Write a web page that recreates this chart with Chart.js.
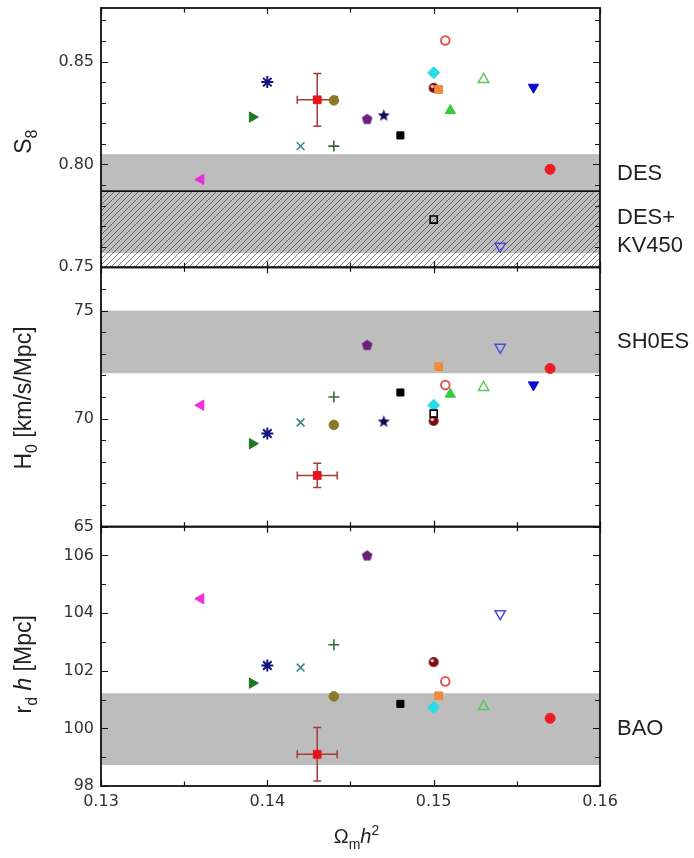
<!DOCTYPE html>
<html>
<head>
<meta charset="utf-8">
<script src="https://cdn.jsdelivr.net/npm/chart.js@4.4.1/dist/chart.umd.min.js"></script>
<style>
  html, body { margin: 0; padding: 0; background: #fff; }
  #wrap { width: 694px; height: 858px; }
</style>
</head>
<body>
<div id="wrap"><canvas id="chart" width="694" height="858"></canvas></div>
<script>
// Omega_m h^2 of each model (same order in every panel)
const omh2 = [0.1360, 0.1391, 0.1400, 0.1420, 0.1430, 0.1440, 0.1440, 0.1460, 0.1470, 0.1480,
              0.1500, 0.1500, 0.1503, 0.1507, 0.1510, 0.1530, 0.1560, 0.1570, 0.1500, 0.1540];
const s8Vals = [0.7927, 0.8230, 0.8400, 0.8089, 0.8314, 0.8311, 0.8089, 0.8222, 0.8241, 0.8141,
                0.8372, 0.8445, 0.8364, 0.8602, 0.8262, 0.8413, 0.8375, 0.7976, 0.7732, 0.7602];
const h0Vals = [70.62, 68.84, 69.31, 69.82, 67.37, 69.71, 71.00, 73.42, 69.89, 71.21,
                69.89, 70.62, 72.40, 71.55, 71.13, 71.44, 71.56, 72.32, 70.23, 73.30];
const rdhVals = [104.50, 101.57, 102.18, 102.11, 99.10, 101.11, 102.90, 106.01, null, 100.85,
                 102.30, 100.72, 101.13, 101.63, null, 100.76, null, 100.35, null, 103.98];

// error bars of the reference point (index 4)
const refIndex = 4;
const refErrX = 0.0012;
const refErrS8 = 0.0128;
const refErrH0 = 0.56;
const refErrRdh = 0.93;

// observational bands
const desBand = [0.757, 0.805];
const kvBand = [0.740, 0.787];
const shoesBand = [72.1, 75.0];
const baoBand = [98.73, 101.22];

// axis ranges
const xRange = [0.13, 0.16];
const s8Range = [0.75, 0.876];
const h0Range = [65, 77];
const rdhRange = [98, 107];

function shapeImg(size, draw) {
  const cv = document.createElement('canvas');
  cv.width = size; cv.height = size;
  draw(cv.getContext('2d'), size / 2);
  return cv;
}
const pentagon = shapeImg(13, (g, c) => {
  g.fillStyle = '#6b1f78';
  g.beginPath();
  for (let i = 0; i < 5; i++) {
    const a = -Math.PI / 2 + i * 2 * Math.PI / 5;
    g.lineTo(c + 5.6 * Math.cos(a), c + 0.6 + 5.6 * Math.sin(a));
  }
  g.closePath(); g.fill();
});
const star5 = shapeImg(15, (g, c) => {
  g.fillStyle = '#0b0b5e';
  g.beginPath();
  for (let i = 0; i < 10; i++) {
    const a = -Math.PI / 2 + i * Math.PI / 5;
    const r = i % 2 ? 2.7 : 6.5;
    g.lineTo(c + r * Math.cos(a), c + 0.8 + r * Math.sin(a));
  }
  g.closePath(); g.fill();
});
const sphere = shapeImg(12, (g, c) => {
  g.fillStyle = '#7a0c0c';
  g.beginPath(); g.arc(c, c, 5, 0, 2 * Math.PI); g.fill();
  g.fillStyle = '#f2d2d2';
  g.beginPath(); g.arc(c - 1.4, c - 1.4, 1.7, 0, 2 * Math.PI); g.fill();
});

const none = 'rgba(0,0,0,0)';
const markers = [
  { style: 'triangle', rot: 270, color: '#ee30dc', fill: '#ee30dc', r: 6, bw: 1 },
  { style: 'triangle', rot: 90, color: '#1f7a1f', fill: '#1f7a1f', r: 6, bw: 1 },
  { style: 'star', rot: 0, color: '#12127e', fill: none, r: 6, bw: 2 },
  { style: 'crossRot', rot: 0, color: '#3d8585', fill: none, r: 5.5, bw: 1.6 },
  { style: 'rect', rot: 0, color: '#e8141c', fill: '#e8141c', r: 5.5, bw: 1 },
  { style: 'circle', rot: 0, color: '#8c7a2a', fill: '#8c7a2a', r: 4.8, bw: 1 },
  { style: 'cross', rot: 0, color: '#2f6e2f', fill: none, r: 5.5, bw: 1.6 },
  { style: pentagon, rot: 0, color: '#6b1f78', fill: '#6b1f78', r: 6, bw: 0 },
  { style: star5, rot: 0, color: '#0b0b5e', fill: '#0b0b5e', r: 6, bw: 0 },
  { style: 'rect', rot: 0, color: '#000000', fill: '#000000', r: 5, bw: 1 },
  { style: sphere, rot: 0, color: '#7a0c0c', fill: '#7a0c0c', r: 5, bw: 0 },
  { style: 'rectRot', rot: 0, color: '#2adbe8', fill: '#2adbe8', r: 6, bw: 1 },
  { style: 'rect', rot: 0, color: '#f28a3a', fill: '#f28a3a', r: 5.5, bw: 1 },
  { style: 'circle', rot: 0, color: '#e05555', fill: '#ffffff', r: 4.3, bw: 2 },
  { style: 'triangle', rot: 0, color: '#33cc3a', fill: '#33cc3a', r: 6, bw: 1 },
  { style: 'triangle', rot: 0, color: '#5cc85c', fill: none, r: 6, bw: 1.5 },
  { style: 'triangle', rot: 180, color: '#0a0acc', fill: '#0a0acc', r: 6, bw: 1 },
  { style: 'circle', rot: 0, color: '#ee1c24', fill: '#ee1c24', r: 5, bw: 1 },
  { style: 'rect', rot: 0, color: '#000000', fill: none, r: 5, bw: 1.6 },
  { style: 'triangle', rot: 180, color: '#4d4dd6', fill: none, r: 6, bw: 1.5 }
];

const panels = [
  { id: 'yS8', vals: s8Vals, err: refErrS8, minor: 0.01, major: 0.05 },
  { id: 'yH0', vals: h0Vals, err: refErrH0, minor: 1, major: 5 },
  { id: 'yRd', vals: rdhVals, err: refErrRdh, minor: 1, major: 2 }
];

const tickFont = { family: 'DejaVu Sans', size: 16 };
const titleFamily = 'Liberation Sans';

function hatchPattern(g) {
  const p = document.createElement('canvas');
  p.width = 6; p.height = 6;
  const h = p.getContext('2d');
  h.strokeStyle = 'rgba(30,30,30,0.55)';
  h.lineWidth = 1;
  h.beginPath();
  h.moveTo(0, 6); h.lineTo(6, 0);
  h.moveTo(-1, 1); h.lineTo(1, -1);
  h.moveTo(5, 7); h.lineTo(7, 5);
  h.stroke();
  return g.createPattern(p, 'repeat');
}

function drawRich(g, parts, x, y, size, angle) {
  g.save();
  g.translate(x, y);
  g.rotate(angle);
  g.fillStyle = '#222';
  g.textAlign = 'left';
  g.textBaseline = 'alphabetic';
  const fonts = parts.map(p => (p.it ? 'italic ' : '') + Math.round((p.sub || p.sup) ? size * 0.68 : size) + 'px "' + titleFamily + '"');
  const widths = parts.map((p, i) => { g.font = fonts[i]; return g.measureText(p.t).width; });
  let cx = -widths.reduce((a, b) => a + b, 0) / 2;
  parts.forEach((p, i) => {
    g.font = fonts[i];
    const dy = p.sub ? size * 0.28 : (p.sup ? -size * 0.4 : 0);
    g.fillText(p.t, cx, dy);
    cx += widths[i];
  });
  g.restore();
}

const decorPlugin = {
  id: 'decor',
  beforeDatasetsDraw(chart) {
    const g = chart.ctx;
    const { left, right } = chart.chartArea;
    const xs = chart.scales.x;
    const band = (sc, lo, hi, fill) => {
      const y1 = sc.getPixelForValue(hi), y2 = sc.getPixelForValue(lo);
      g.fillStyle = fill;
      g.fillRect(left, y1, right - left, y2 - y1);
    };
    const yS8 = chart.scales.yS8, yH0 = chart.scales.yH0, yRd = chart.scales.yRd;
    g.save();
    g.beginPath(); g.rect(left, yS8.top, right - left, yS8.bottom - yS8.top); g.clip();
    band(yS8, desBand[0], desBand[1], '#bdbdbd');
    band(yS8, kvBand[0], kvBand[1], hatchPattern(g));
    g.strokeStyle = '#111'; g.lineWidth = 1.8;
    const yl = yS8.getPixelForValue(kvBand[1]);
    g.beginPath(); g.moveTo(left, yl); g.lineTo(right, yl); g.stroke();
    g.restore();
    g.save();
    g.beginPath(); g.rect(left, yH0.top, right - left, yH0.bottom - yH0.top); g.clip();
    band(yH0, shoesBand[0], shoesBand[1], '#bdbdbd');
    g.restore();
    g.save();
    g.beginPath(); g.rect(left, yRd.top, right - left, yRd.bottom - yRd.top); g.clip();
    band(yRd, baoBand[0], baoBand[1], '#bdbdbd');
    g.restore();

    // error bars of the reference point
    g.save();
    g.strokeStyle = '#a83a3a';
    g.lineWidth = 1.5;
    panels.forEach(p => {
      const sc = chart.scales[p.id];
      const xv = omh2[refIndex], yv = p.vals[refIndex];
      const px = xs.getPixelForValue(xv), py = sc.getPixelForValue(yv);
      const x1 = xs.getPixelForValue(xv - refErrX), x2 = xs.getPixelForValue(xv + refErrX);
      const y1 = sc.getPixelForValue(yv + p.err), y2 = sc.getPixelForValue(yv - p.err);
      const c = 4;
      g.beginPath();
      g.moveTo(x1, py); g.lineTo(x2, py);
      g.moveTo(x1, py - c); g.lineTo(x1, py + c);
      g.moveTo(x2, py - c); g.lineTo(x2, py + c);
      g.moveTo(px, y1); g.lineTo(px, y2);
      g.moveTo(px - c, y1); g.lineTo(px + c, y1);
      g.moveTo(px - c, y2); g.lineTo(px + c, y2);
      g.stroke();
    });
    g.restore();
  },
  afterDatasetsDraw(chart) {
    const g = chart.ctx;
    const { left, right } = chart.chartArea;
    const xs = chart.scales.x;
    g.save();
    g.strokeStyle = '#111';
    g.lineWidth = 1.2;
    panels.forEach(p => {
      const sc = chart.scales[p.id];
      const top = sc.top, bottom = sc.bottom;
      g.beginPath();
      // x ticks, inward from top and bottom
      for (let k = Math.round(xRange[0] / 0.005); k * 0.005 <= xRange[1] + 1e-9; k++) {
        const v = k * 0.005;
        const len = k % 2 === 0 ? 6 : 4.5;
        const px = Math.round(xs.getPixelForValue(v)) + 0.5;
        g.moveTo(px, top); g.lineTo(px, top + len);
        g.moveTo(px, bottom); g.lineTo(px, bottom - len);
      }
      // y ticks, inward from left and right
      for (let k = Math.ceil(sc.min / p.minor - 1e-9); k * p.minor <= sc.max + 1e-9; k++) {
        const v = k * p.minor;
        const isMajor = Math.abs(v / p.major - Math.round(v / p.major)) < 1e-6;
        const len = isMajor ? 7 : 5;
        const py = Math.round(sc.getPixelForValue(v)) + 0.5;
        g.moveTo(left, py); g.lineTo(left + len, py);
        g.moveTo(right, py); g.lineTo(right - len, py);
      }
      g.stroke();
      g.lineWidth = 1.8;
      g.strokeRect(left, top, right - left, bottom - top);
      g.lineWidth = 1.2;
    });
    g.restore();

    // band labels on the right
    const yS8 = chart.scales.yS8, yH0 = chart.scales.yH0, yRd = chart.scales.yRd;
    g.save();
    g.fillStyle = '#222';
    g.font = '22px "Liberation Sans"';
    g.textAlign = 'left';
    g.textBaseline = 'middle';
    const lx = right + 17;
    g.fillText('DES', lx, (yS8.getPixelForValue(desBand[1]) + yS8.getPixelForValue(kvBand[1])) / 2 + 1);
    const kvMid = (yS8.getPixelForValue(kvBand[1]) + yS8.bottom) / 2 + 3;
    g.fillText('DES+', lx, kvMid - 14);
    g.fillText('KV450', lx, kvMid + 14);
    g.fillText('SH0ES', lx, (yH0.getPixelForValue(shoesBand[0]) + yH0.getPixelForValue(shoesBand[1])) / 2);
    g.fillText('BAO', lx, (yRd.getPixelForValue(baoBand[0]) + yRd.getPixelForValue(baoBand[1])) / 2);
    g.restore();

    // axis titles
    const mid = sc => (sc.top + sc.bottom) / 2;
    drawRich(g, [{ t: 'S' }, { t: '8', sub: true }], 31, mid(yS8) + 4, 23, -Math.PI / 2);
    drawRich(g, [{ t: 'H' }, { t: '0', sub: true }, { t: ' [km/s/Mpc]' }], 31, mid(yH0) + 1, 23, -Math.PI / 2);
    drawRich(g, [{ t: 'r' }, { t: 'd', sub: true }, { t: ' ' }, { t: 'h', it: true }, { t: ' [Mpc]' }], 31, mid(yRd) + 8, 23, -Math.PI / 2);
    drawRich(g, [{ t: '\u03A9' }, { t: 'm', sub: true }, { t: 'h', it: true }, { t: '2', sup: true }], (left + right) / 2 + 6, 843, 20, 0);
  }
};

function yAxis(range, step, digits) {
  return {
    type: 'linear',
    position: 'left',
    stack: 'panels',
    stackWeight: 1,
    min: range[0],
    max: range[1],
    grid: { display: false, drawTicks: false },
    border: { display: false },
    ticks: {
      stepSize: step,
      includeBounds: false,
      padding: 7,
      color: '#333',
      font: tickFont,
      callback: v => v.toFixed(digits)
    },
    afterFit: s => { s.width = 101; s.paddingTop = 0; s.paddingBottom = 0; }
  };
}

new Chart(document.getElementById('chart'), {
  type: 'scatter',
  data: {
    datasets: panels.map(p => ({
      yAxisID: p.id,
      data: omh2.map((x, i) => ({ x: x, y: p.vals[i] })),
      showLine: false,
      pointStyle: markers.map(m => m.style),
      pointRotation: markers.map(m => m.rot),
      pointRadius: markers.map(m => m.r),
      pointHoverRadius: markers.map(m => m.r),
      pointBackgroundColor: markers.map(m => m.fill),
      pointBorderColor: markers.map(m => m.color),
      pointBorderWidth: markers.map(m => m.bw)
    }))
  },
  options: {
    responsive: false,
    animation: false,
    devicePixelRatio: 1,
    layout: { padding: { left: 0, right: 94, top: 8, bottom: 0 } },
    plugins: { legend: { display: false }, tooltip: { enabled: false } },
    scales: {
      x: {
        type: 'linear',
        min: xRange[0],
        max: xRange[1],
        grid: { display: false, drawTicks: false },
        border: { display: false },
        ticks: {
          stepSize: 0.01,
          padding: 6,
          color: '#333',
          font: tickFont,
          maxRotation: 0,
          callback: v => v.toFixed(2)
        },
        afterFit: s => { s.height = 72; s.paddingLeft = 0; s.paddingRight = 0; }
      },
      // stacked panels are laid out bottom-up, so the lowest panel comes first
      yRd: yAxis(rdhRange, 2, 0),
      yH0: yAxis(h0Range, 5, 0),
      yS8: yAxis(s8Range, 0.05, 2)
    }
  },
  plugins: [decorPlugin]
});
</script>
</body>
</html>
